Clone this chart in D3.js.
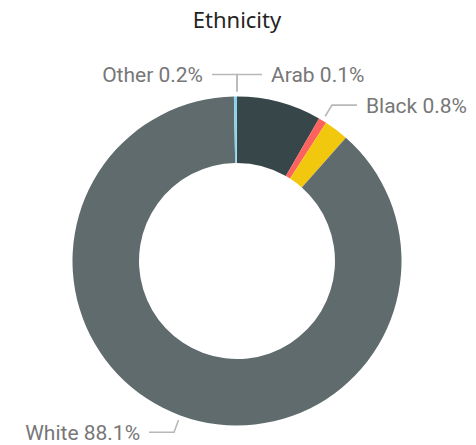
<!DOCTYPE html>
<html>
<head>
<meta charset="utf-8">
<script src="https://cdn.jsdelivr.net/npm/d3@7"></script>
<style>
  body { margin: 0; background: #fff; }
  svg { display: block; }
</style>
</head>
<body>
<div id="chart"></div>
<script>
// Chart size
const width = 476;
const height = 445;

// Data (percent of total)
const categories = ["Asian", "Black", "Mixed", "White", "Other", "Arab"];
const shares = [8.3, 0.8, 2.4, 88.1, 0.2, 0.1];
const colors = ["#374649", "#FD625E", "#F2C80F", "#5F6B6D", "#8AD4EB", "#8AD4EB"];
// Only these slices carry a data label
const labelled = ["Other", "Arab", "Black", "White"];
const labelSide = {Other: -1, Arab: 1, Black: 1, White: -1};

const cx = 237, cy = 261;
const outerR = 164.5, innerR = 98;

const svg = d3.select("#chart")
  .append("svg")
  .attr("width", width)
  .attr("height", height);

// Title
svg.append("text")
  .attr("x", cx)
  .attr("y", 28)
  .attr("text-anchor", "middle")
  .attr("font-family", "'Noto Sans', 'Open Sans', sans-serif")
  .attr("font-size", "22px")
  .attr("fill", "#252423")
  .text("Ethnicity");

const data = categories.map((c, i) => ({name: c, value: shares[i], color: colors[i]}));

const pie = d3.pie()
  .sort(null)
  .value(d => d.value);

const arc = d3.arc()
  .innerRadius(innerR)
  .outerRadius(outerR);

const g = svg.append("g")
  .attr("transform", `translate(${cx},${cy})`);

const arcs = pie(data);

g.selectAll("path.slice")
  .data(arcs)
  .enter()
  .append("path")
    .attr("class", "slice")
    .attr("d", arc)
    .attr("fill", d => d.data.color);

// Leader lines + labels
const startArc = d3.arc().innerRadius(outerR + 5).outerRadius(outerR + 5);
const elbowArc = d3.arc().innerRadius(outerR + 18).outerRadius(outerR + 18);
const runLength = 25;
const textGap = 9;

const labelArcs = arcs.filter(d => labelled.includes(d.data.name));

labelArcs.forEach(d => {
  const side = labelSide[d.data.name];
  let p0 = startArc.centroid(d);
  let p1 = elbowArc.centroid(d);
  // the two tiny slices at the top share one vertical stem
  if (d.data.name === "Other" || d.data.name === "Arab") {
    p0 = [0, -(outerR + 5)];
    p1 = [0, -(outerR + 22)];
  }
  const p2 = [p1[0] + side * runLength, p1[1]];

  g.append("polyline")
    .attr("points", [p0, p1, p2].map(p => p.join(",")).join(" "))
    .attr("fill", "none")
    .attr("stroke", "#b8b8b8")
    .attr("stroke-width", 1.6);

  g.append("text")
    .attr("x", p2[0] + side * textGap)
    .attr("y", p2[1])
    .attr("dy", "0.35em")
    .attr("text-anchor", side < 0 ? "end" : "start")
    .attr("font-family", "Roboto, 'DejaVu Sans', sans-serif")
    .attr("font-size", "21px")
    .attr("fill", "#777777")
    .text(`${d.data.name} ${d3.format(".1f")(d.data.value)}%`);
});
</script>
</body>
</html>
